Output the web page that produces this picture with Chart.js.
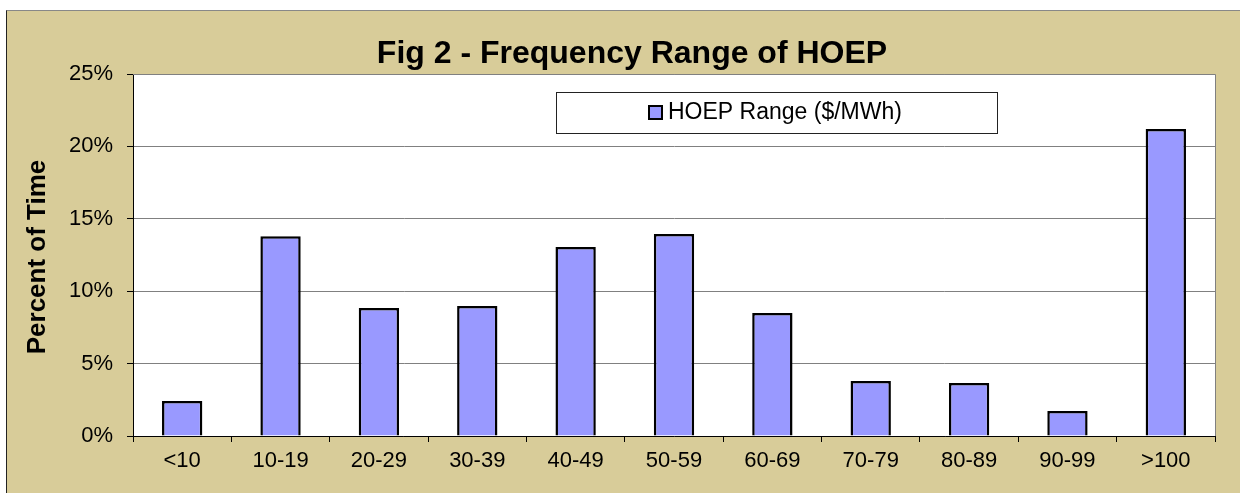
<!DOCTYPE html>
<html>
<head>
<meta charset="utf-8">
<script src="https://cdn.jsdelivr.net/npm/chart.js@4/dist/chart.umd.min.js"></script>
<style>
  body { margin: 0; background: #fff; }
  #frame {
    position: absolute; left: 6px; top: 10px;
    width: 1233px; height: 482px;
    background: #D8CC99;
    border-left: 1px solid #222;
    border-top: 1px solid #888;
  }
  canvas { display: block; }
</style>
</head>
<body>
<div id="frame"><canvas id="chart" width="1233" height="482"></canvas></div>
<script>
// data
const categories = ["<10", "10-19", "20-29", "30-39", "40-49", "50-59", "60-69", "70-79", "80-89", "90-99", ">100"];
const percentOfTime = [2.42, 13.8, 8.84, 8.98, 13.05, 13.95, 8.49, 3.8, 3.66, 1.73, 21.2];
const yTicks = [0, 5, 10, 15, 20, 25];
const seriesName = "HOEP Range ($/MWh)";
const chartTitle = "Fig 2 - Frequency Range of HOEP";
const yTitle = "Percent of Time";

const font = "'Liberation Sans', Arial, sans-serif";

// white plot area
const plotBg = {
  id: "plotBg",
  beforeDraw(chart) {
    const a = chart.chartArea;
    chart.ctx.save();
    chart.ctx.fillStyle = "#fff";
    chart.ctx.fillRect(a.left, a.top, a.right - a.left, a.bottom - a.top);
    chart.ctx.restore();
  }
};

// title, y title, legend box, right border of plot
const extras = {
  id: "extras",
  afterDraw(chart) {
    const c = chart.ctx;
    const a = chart.chartArea;
    c.save();
    // right + top plot border
    c.strokeStyle = "#808080";
    c.lineWidth = 1;
    c.beginPath();
    c.moveTo(a.left, a.top + 0.5);
    c.lineTo(Math.round(a.right) + 0.5, a.top + 0.5);
    c.lineTo(Math.round(a.right) + 0.5, a.bottom);
    c.stroke();

    // title
    c.fillStyle = "#000";
    c.font = "bold 32px " + font;
    c.textAlign = "center";
    c.textBaseline = "alphabetic";
    c.fillText(chartTitle, 625, 52);

    // y axis title
    c.save();
    c.translate(31, 246);
    c.rotate(-Math.PI / 2);
    c.font = "bold 26px " + font;
    c.textBaseline = "middle";
    c.fillText(yTitle, 0, 0);
    c.restore();

    // legend
    c.fillStyle = "#fff";
    c.fillRect(549, 81, 441, 41);
    c.strokeStyle = "#222";
    c.lineWidth = 1;
    c.strokeRect(549.5, 81.5, 441, 41);
    const ds = chart.data.datasets[0];
    c.fillStyle = ds.backgroundColor;
    c.fillRect(642, 95, 13, 13);
    c.strokeStyle = "#000";
    c.lineWidth = 2;
    c.strokeRect(642, 95, 13, 13);
    c.fillStyle = "#000";
    c.font = "23px " + font;
    c.textAlign = "left";
    c.textBaseline = "middle";
    c.fillText(ds.label, 661, 102);
    c.restore();
  }
};

new Chart(document.getElementById("chart"), {
  type: "bar",
  data: {
    labels: categories,
    datasets: [{
      label: seriesName,
      data: percentOfTime,
      backgroundColor: "#9999FF",
      borderColor: "#000",
      borderWidth: 2.5,
      categoryPercentage: 1,
      barPercentage: 0.41
    }]
  },
  options: {
    responsive: false,
    animation: false,
    layout: { padding: { left: 0, top: 63, right: 25, bottom: 0 } },
    plugins: {
      legend: { display: false },
      title: { display: false },
      tooltip: { enabled: false }
    },
    scales: {
      x: {
        afterFit: s => { s.height = 57; },
        grid: { display: true, drawOnChartArea: false, tickLength: 6, color: "#000", offset: true },
        border: { color: "#000", width: 1 },
        ticks: { color: "#000", font: { family: font, size: 22 }, padding: 6, maxRotation: 0 }
      },
      y: {
        min: 0,
        max: 25,
        afterFit: s => { s.width = 126; },
        afterBuildTicks: s => { s.ticks = yTicks.map(v => ({ value: v })); },
        grid: { color: "#808080", tickColor: "#000", tickLength: 6 },
        border: { color: "#000", width: 1 },
        ticks: { color: "#000", font: { family: font, size: 22 }, padding: 14, callback: v => v + "%" }
      }
    }
  },
  plugins: [plotBg, extras]
});
</script>
</body>
</html>
